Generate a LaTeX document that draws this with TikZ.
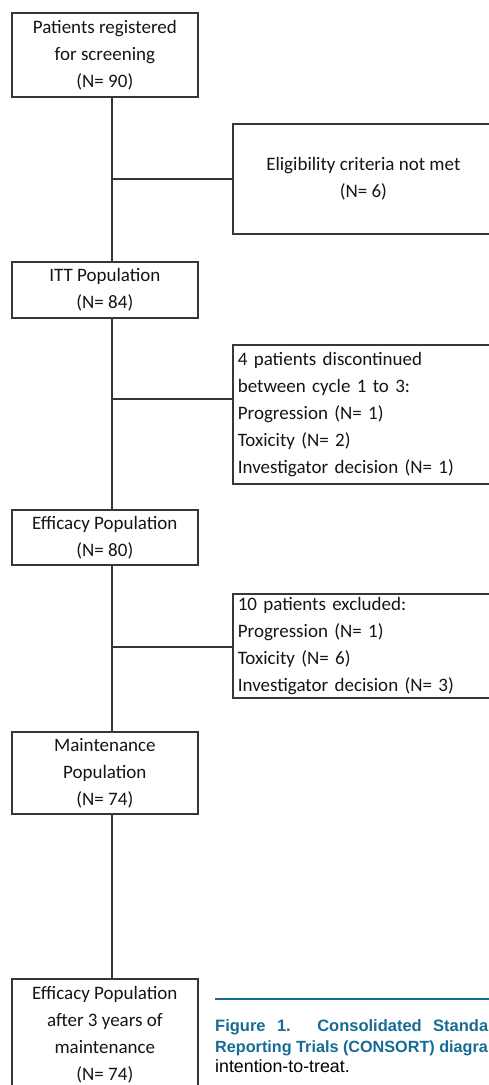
\documentclass[tikz,border=0pt]{standalone}
\usepackage{fontspec}
\setmainfont{Carlito}
\newfontfamily\capfont{Liberation Sans}
\definecolor{linec}{RGB}{55,55,55}
\definecolor{txt}{RGB}{25,20,20}
\definecolor{capblue}{RGB}{22,108,148}
\begin{document}
\begin{tikzpicture}[x=1pt,y=-1pt,
  box/.style={draw=linec, line width=1.7pt, rectangle, anchor=north west, inner sep=0pt,
    align=center, font=\fontsize{19}{27}\selectfont, text=txt},
  lbox/.style={box, align=left, text width=251pt},
  conn/.style={draw=linec, line width=1.7pt},
  capb/.style={anchor=base west, inner sep=0pt, font=\capfont\bfseries\fontsize{16.2}{21}\selectfont, text=capblue},
  capr/.style={anchor=base west, inner sep=0pt, font=\capfont\fontsize{17.8}{21}\selectfont, text=black}]
\useasboundingbox (0,0) rectangle (489,1085);
\clip (0,0) rectangle (489,1085);
\fill[white] (0,0) rectangle (489,1085);

\node[box, minimum width=186pt, minimum height=84pt] (b1) at (11,12) {Patients registered\\for screening\\(N= 90)};
\node[box, minimum width=261pt, minimum height=110pt] (b2) at (232,123) {Eligibility criteria not met\\(N= 6)};
\node[box, minimum width=186pt, minimum height=56pt] (b3) at (11,261) {ITT Population\\(N= 84)};
\node[lbox, minimum width=261pt, minimum height=139pt] (b4) at (232,344) {4 patients discontinued\\between cycle 1 to 3:\\Progression (N= 1)\\Toxicity (N= 2)\\Investigator decision (N= 1)};
\node[box, minimum width=186pt, minimum height=55pt] (b5) at (11,509) {Efficacy Population\\(N= 80)};
\node[lbox, minimum width=261pt, minimum height=104pt] (b6) at (232,593) {10 patients excluded:\\Progression (N= 1)\\Toxicity (N= 6)\\Investigator decision (N= 3)};
\node[box, minimum width=186pt, minimum height=82pt] (b7) at (11,731) {Maintenance\\Population\\(N= 74)};
\node[box, minimum width=186pt, minimum height=111pt] (b8) at (11,978) {Efficacy Population\\after 3 years of\\maintenance\\(N= 74)};

\coordinate (sp) at (112,0);
\coordinate (j1) at (112,179);
\coordinate (j2) at (112,399);
\coordinate (j3) at (112,647);
\draw[conn] (b1.south -| sp) -- (b3.north -| sp);
\draw[conn] (b3.south -| sp) -- (b5.north -| sp);
\draw[conn] (b5.south -| sp) -- (b7.north -| sp);
\draw[conn] (b7.south -| sp) -- (b8.north -| sp);
\draw[conn] (j1) -- (j1 -| b2.west);
\draw[conn] (j2) -- (j2 -| b4.west);
\draw[conn] (j3) -- (j3 -| b6.west);

\coordinate (cl1) at (215,999);
\coordinate (cl2) at (495,999);
\draw[capblue, line width=2.5pt] (cl1) -- (cl2);
\node[capb, font=\capfont\bfseries\fontsize{16.5}{21}\selectfont] (c1) at (215,1031) {\makebox[273pt][s]{Figure 1. Consolidated Standa}};
\node[capb] (c2) at (215,1052) {Reporting Trials (CONSORT) diagra};
\node[capr] (c3) at (215,1072) {intention-to-treat.};
\end{tikzpicture}
\end{document}
